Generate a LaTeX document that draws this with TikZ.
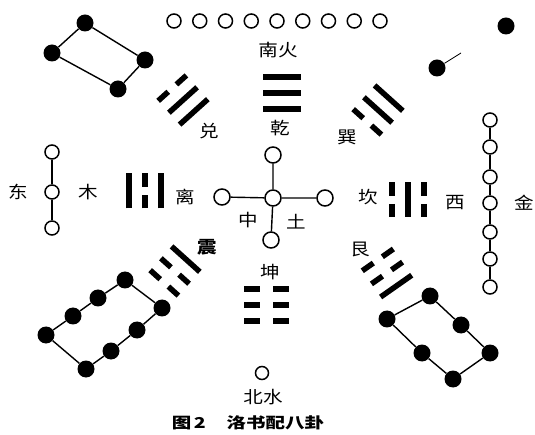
\documentclass[tikz,border=0pt]{standalone}
\usepackage{fontspec}
\newfontfamily\cjk{Noto Sans CJK SC}[FakeStretch=1.15]
\newfontfamily\cjkcap{Noto Sans CJK SC}[FakeStretch=1.3]
\def\hl{19}
\def\hg{5.5}
\tikzset{
  bar/.style={line width=5.5pt},
  yang/.pic={\draw[bar] (-\hl,0) -- (\hl,0);},
  yin/.pic={\draw[bar] (-\hl,0) -- (-\hg,0); \draw[bar] (\hg,0) -- (\hl,0);},
}
\newcommand\gua[6]{%
  \begin{scope}[shift={(#1,#2)},rotate=#3]
    \pic[transform shape] at (0,-16) {#4};
    \pic[transform shape] at (0,0) {#5};
    \pic[transform shape] at (0,16) {#6};
  \end{scope}}
\begin{document}
\begin{tikzpicture}[x=1pt,y=-1pt,
  oc/.style={circle,draw,line width=1.5pt,minimum size=14pt,inner sep=0pt},
  occ/.style={oc,minimum size=16pt},
  bd/.style={circle,fill=black,minimum size=17pt,inner sep=0pt},
  ln/.style={line width=1.4pt},
  lab/.style={font=\cjk\fontsize{17}{17}\selectfont,inner sep=0pt},
  captext/.style={font=\cjkcap\bfseries\fontsize{15}{15}\selectfont,inner sep=0pt},
]
\useasboundingbox (0,0) rectangle (535,435);

% top row of open circles
\foreach \i in {0,...,8}{
  \node[oc] (top\i) at ({174+25.75*\i},21) {};
}

% top-left rectangle of black dots
\node[bd] (a1) at (85,23) {};
\node[bd] (a2) at (52,53) {};
\node[bd] (a3) at (118,89) {};
\node[bd] (a4) at (145,60) {};
\draw[ln] (a1) -- (a2) -- (a3) -- (a4) -- (a1);

% top-right two black dots
\node[bd] (b1) at (506,26) {};
\node[bd] (b2) at (437,68) {};
\coordinate (b3) at (461,53);
\draw[line width=0.8pt] (b2) -- (b3);

% bottom-left rectangle (8 dots)
\node[bd] (c1) at (125,280) {};
\node[bd] (c2) at (98,298) {};
\node[bd] (c3) at (73,316) {};
\node[bd] (c4) at (46,335) {};
\node[bd] (c5) at (86,369) {};
\node[bd] (c6) at (111,351) {};
\node[bd] (c7) at (137,330) {};
\node[bd] (c8) at (162,308) {};
\draw[ln] (c1) -- (c2) -- (c3) -- (c4) -- (c5) -- (c6) -- (c7) -- (c8) -- (c1);

% bottom-right rectangle (6 dots)
\node[bd] (d1) at (430,296) {};
\node[bd] (d2) at (387,319) {};
\node[bd] (d3) at (422,353) {};
\node[bd] (d4) at (453,379) {};
\node[bd] (d5) at (490,353) {};
\node[bd] (d6) at (461,325) {};
\draw[ln] (d1) -- (d2) -- (d3) -- (d4) -- (d5) -- (d6) -- (d1);

% east (left) chain of 3
\node[oc] (e1) at (52,152) {};
\node[oc] (e2) at (52,192) {};
\node[oc] (e3) at (52,228) {};
\draw[ln] (e1) -- (e2) -- (e3);

% west (right) chain of 7
\foreach \y [count=\k] in {120,147,177,203,232,259,287}{
  \node[oc] (w\k) at (490,\y) {};
}
\draw[ln] (w1) -- (w2) -- (w3) -- (w4) -- (w5) -- (w6) -- (w7);

% centre cross
\node[occ] (m0) at (273,198) {};
\node[occ] (mt) at (273,155) {};
\node[occ] (mb) at (271,240) {};
\node[occ] (ml) at (222,197) {};
\node[occ] (mr) at (325,198) {};
\draw[ln] (m0) -- (mt) (m0) -- (mb) (m0) -- (ml) (m0) -- (mr);

% bottom single circle
\node[oc,minimum size=13pt] (n1) at (262,373) {};

% trigrams (top line = outer)
\gua{282}{93}{0}{yang}{yang}{yang}      % Qian
\gua{183}{100}{42}{yin}{yang}{yang}     % Dui
\gua{378}{110}{-42}{yang}{yang}{yin}    % Xun
\begin{scope}\def\hl{17.5}\def\hg{4}
\gua{145}{191}{90}{yang}{yin}{yang}     % Li
\gua{408}{200}{-90}{yin}{yang}{yin}     % Kan
\end{scope}
\gua{175}{271}{138}{yin}{yin}{yang}     % Zhen
\gua{387}{273}{-145}{yang}{yin}{yin}    % Gen
\begin{scope}\def\hl{22.5}\def\hg{6.5}
\gua{266}{305}{180}{yin}{yin}{yin}      % Kun
\end{scope}

% labels
\node[lab] (tS) at (278,50) {南火};
\node[lab] (tQian) at (280,128) {乾};
\node[lab] (tDui) at (209,131) {兑};
\node[lab] (tXun) at (347,137) {巽};
\node[lab] (tE) at (18,192) {东};
\node[lab] (tMu) at (88,192) {木};
\node[lab] (tLi) at (185,197) {离};
\node[lab] (tKan) at (368,197) {坎};
\node[lab] (tW) at (455,203) {西};
\node[lab] (tJin) at (524,203) {金};
\node[lab] (tZ) at (248,220) {中};
\node[lab] (tTu) at (296,222) {土};
\node[lab,font=\cjk\bfseries\fontsize{17}{17}\selectfont] (tZhen) at (207,247) {震};
\node[lab] (tGen) at (360,249) {艮};
\node[lab] (tKun) at (270,272) {坤};
\node[lab] (tN) at (263,397) {北水};
\node[captext] (tCap) at (248,423) {图\,2\hspace{1.4em}洛书配八卦};
\end{tikzpicture}
\end{document}
